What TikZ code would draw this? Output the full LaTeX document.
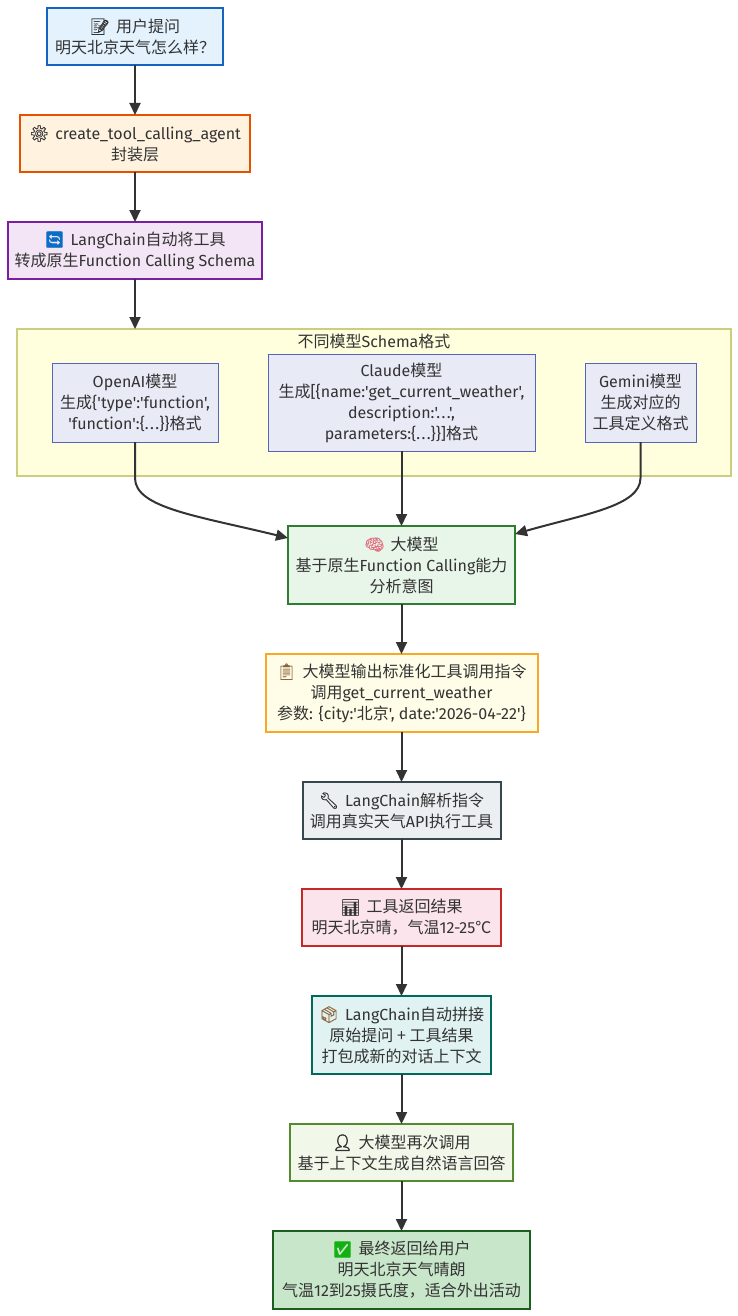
\documentclass[tikz,border=0pt]{standalone}
\usepackage{fontspec}
\usetikzlibrary{arrows.meta}
\setmainfont[Ligatures={TeXOff,NoCommon}]{Fira Sans}
\newfontfamily\zhfont{Noto Sans CJK SC}
\newfontfamily\emojifont[FakeBold=0.5]{Noto Emoji}
\newfontfamily\emojiheavy[FakeBold=3]{Noto Emoji}
\newcommand{\zh}[1]{{\zhfont #1}}
\newcommand{\icon}[2]{{\emojifont\textcolor{#1}{#2}}\hspace{6pt}}
\newcommand{\wdots}{.\kern1.4pt.\kern1.4pt.}
\definecolor{inkgray}{HTML}{333333}
\definecolor{groupline}{HTML}{CDCD80}
\definecolor{groupfill}{HTML}{FFFFDE}
\definecolor{modelline}{HTML}{5464BE}
\definecolor{modelfill}{HTML}{E8EAF6}
\definecolor{iconblue}{HTML}{0A6FC4}
\definecolor{iconpink}{HTML}{E0707F}
\definecolor{iconbrown}{HTML}{8A6238}
\definecolor{icongreen}{HTML}{12B010}
\begin{document}
\begin{tikzpicture}[x=1pt,y=-1pt,color=inkgray,
  flowbox/.style={rectangle,draw,line width=2pt,align=center,inner sep=0pt,outer sep=0pt,
    text=inkgray,font=\fontsize{16}{21}\selectfont},
  modelbox/.style={flowbox,line width=1pt,draw=modelline,fill=modelfill},
  flowarrow/.style={line width=2pt,-{Triangle[length=12pt,width=11pt]}}]
\useasboundingbox (0,0) rectangle (738,1316);
% schema group
\node[rectangle,draw=groupline,fill=groupfill,line width=1.3pt,minimum width=714pt,minimum height=147pt,outer sep=0pt] (group) at (374,402.5) {};
\node[font=\fontsize{16}{21}\selectfont,text=inkgray] (grouptitle) at (374,341) {\zh{不同模型}Schema\zh{格式}};
% top of the flow
\node[flowbox,draw={rgb,255:red,21;green,101;blue,192},fill={rgb,255:red,227;green,242;blue,253},minimum width=176pt,minimum height=57pt] (user) at (135,36.5) {\icon{inkgray}{📝}\zh{用户提问}\\\zh{明天北京天气怎么样？}};
\node[flowbox,draw={rgb,255:red,230;green,81;blue,0},fill={rgb,255:red,255;green,243;blue,224},minimum width=230pt,minimum height=57pt] (wrap) at (135,143.5) {\icon{inkgray}{⚙}create\_tool\_calling\_agent\\\zh{封装层}};
\node[flowbox,draw={rgb,255:red,123;green,31;blue,162},fill={rgb,255:red,243;green,229;blue,245},minimum width=254pt,minimum height=57pt] (convert) at (135,250.5) {\icon{iconblue}{🔄}LangChain\zh{自动将工具}\\\zh{转成原生}Function Calling Schema};
% model nodes
\node[modelbox,minimum width=166pt,minimum height=79pt] (openai) at (135,402.5) {OpenAI\zh{模型}\\\zh{生成}\{'type':'function',\\'function':\{\wdots\}\}\zh{格式}};
\node[modelbox,minimum width=267pt,minimum height=97pt] (claude) at (401.5,402.5) {Claude\zh{模型}\\\zh{生成}[\{name:'get\_current\_weather',\\description:'\wdots',\\parameters:\{\wdots\}\}]\zh{格式}};
\node[modelbox,minimum width=111pt,minimum height=79pt] (gemini) at (640.5,402.5) {Gemini\zh{模型}\\\zh{生成对应的}\\\zh{工具定义格式}};
% lower flow
\node[flowbox,draw={rgb,255:red,46;green,125;blue,50},fill={rgb,255:red,232;green,245;blue,233},minimum width=227pt,minimum height=78pt] (big) at (401.5,565) {\icon{iconpink}{🧠}\zh{大模型}\\\zh{基于原生}Function Calling\zh{能力}\\\zh{分析意图}};
\node[flowbox,draw={rgb,255:red,249;green,168;blue,37},fill={rgb,255:red,255;green,253;blue,231},minimum width=272pt,minimum height=78pt] (output) at (401.5,693) {\icon{iconbrown}{📋}\zh{大模型输出标准化工具调用指令}\\\zh{调用}get\_current\_weather\\\zh{参数}: \{city:'\zh{北京}', date:'2026-04-22'\}};
\node[flowbox,draw={rgb,255:red,55;green,71;blue,79},fill={rgb,255:red,236;green,239;blue,241},minimum width=198pt,minimum height=57pt] (parse) at (401.5,810.5) {\icon{inkgray}{🔧}LangChain\zh{解析指令}\\\zh{调用真实天气}API\zh{执行工具}};
\node[flowbox,draw={rgb,255:red,198;green,40;blue,40},fill={rgb,255:red,252;green,228;blue,236},minimum width=199pt,minimum height=57pt] (result) at (401.5,917.5) {\icon{inkgray}{📊}\zh{工具返回结果}\\\zh{明天北京晴，气温}12-25\zh{℃}};
\node[flowbox,draw={rgb,255:red,0;green,105;blue,92},fill={rgb,255:red,224;green,242;blue,241},minimum width=179pt,minimum height=78pt] (pack) at (401.5,1035) {\icon{iconbrown}{📦}LangChain\zh{自动拼接}\\\zh{原始提问 + 工具结果}\\\zh{打包成新的对话上下文}};
\node[flowbox,draw={rgb,255:red,85;green,139;blue,47},fill={rgb,255:red,241;green,248;blue,233},minimum width=223pt,minimum height=57pt] (again) at (401.5,1152.5) {\icon{inkgray}{\emojiheavy 👤}\zh{大模型再次调用}\\\zh{基于上下文生成自然语言回答}};
\node[flowbox,draw={rgb,255:red,27;green,94;blue,32},fill={rgb,255:red,200;green,230;blue,201},minimum width=257pt,minimum height=78pt] (final) at (401.5,1270) {\icon{icongreen}{✅}\zh{最终返回给用户}\\\zh{明天北京天气晴朗}\\\zh{气温}12\zh{到}25\zh{摄氏度，适合外出活动}};
% connectors
\foreach \a/\b in {user/wrap,wrap/convert,claude/big,big/output,output/parse,parse/result,result/pack,pack/again,again/final} {
	\draw[flowarrow] (\a) -- (\b);
}
\draw[flowarrow] (convert.south) -- (convert.south |- group.north);
\coordinate (bigleft) at (288,538);
\coordinate (bigright) at (515,534);
\draw[flowarrow] (openai.south) -- ++(0,36) .. controls +(0,30) and +(-90,-22) .. (bigleft);
\draw[flowarrow] (gemini.south) -- ++(0,36) .. controls +(0,28) and +(70,-20) .. (bigright);
\end{tikzpicture}
\end{document}
